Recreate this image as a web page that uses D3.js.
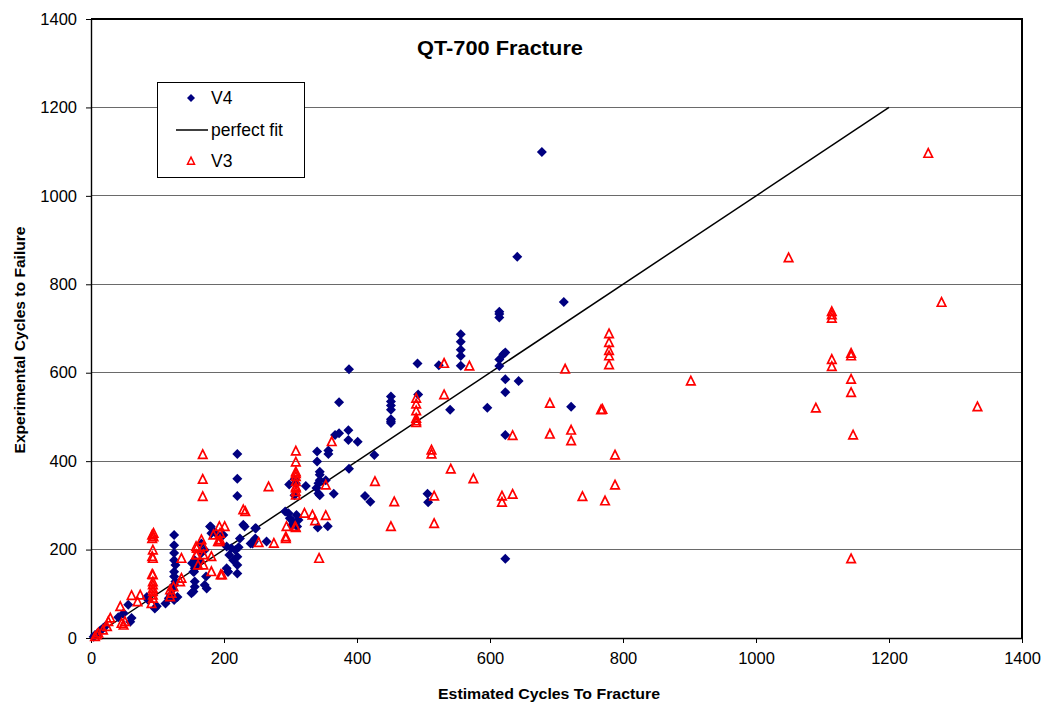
<!DOCTYPE html>
<html>
<head>
<meta charset="utf-8">
<script src="https://cdn.jsdelivr.net/npm/d3@7"></script>
<style>
  html, body { margin: 0; padding: 0; background: #fff; }
  svg { display: block; font-family: Arial, "Liberation Sans", sans-serif; }
</style>
</head>
<body>
<svg id="chart" width="1060" height="704"></svg>
<script>
// Estimated vs experimental cycles, [estimated, experimental]
const v4Points = [
  [678,1099],[641,862],[711,760],[614,738],[614,733],[614,725],[623,646],[620,642],[614,630],[614,615],
  [523,617],[491,621],[623,585],[643,581],[623,556],[492,551],[540,516],[596,521],[722,523],[623,459],[623,179],
  [556,687],[556,670],[556,652],[556,638],[556,616],
  [451,546],[451,535],[451,526],[451,516],[451,495],[451,490],[451,486],
  [388,608],[373,533],[367,459],[373,463],[387,470],[387,448],[401,444],[340,422],[357,424],[357,416],[340,399],
  [426,414],[388,383],[344,376],[344,369],[344,357],[298,347],[306,359],[308,350],[323,344],[342,350],[339,339],
  [342,327],[344,323],[353,357],[365,326],[306,323],[412,321],[420,308],[506,326],[507,307],
  [292,286],[297,282],[299,271],[309,278],[312,267],[304,263],[302,255],[310,252],[341,250],[356,253],
  [247,248],[247,225],[243,214],[264,218],
  [220,416],[220,360],[220,321],[180,252],[186,240],[199,233],[194,229],[231,252],[248,248],[240,214],[245,218],
  [204,207],[211,203],[217,199],[222,205],[208,188],[220,184],[214,176],[220,165],[220,146],[206,150],[173,139],
  [153,170],[156,158],[155,150],
  [125,233],[125,210],[125,192],[125,176],[127,165],[125,150],[125,139],[127,128],[125,120],[122,109],[120,97],
  [117,90],[112,78],[125,86],[130,93],
  [56,75],[61,45],[59,37],[49,56],[41,47],[21,26],[18,22],[14,17],[11,11],[6,7],[4,3],[84,93],[86,86],[99,72],[96,67],
  [152,169],[156,176],[159,161],[154,150],[156,128],[156,116],[154,105],[151,101],[171,120],[174,112],[179,252],
  [181,237],[166,214],[171,199],[166,192],[164,173],[204,158],[206,150],[224,225],[229,256]
];

const v3Points = [
  [1259,1096],[1049,860],[1279,759],[1114,738],[1114,731],[1114,723],[1143,644],[1143,638],[1114,630],[1114,614],
  [1143,585],[1143,555],[1090,520],[1333,523],[1146,459],[1143,179],
  [779,688],[779,668],[779,650],[779,638],[779,618],[902,581],[769,517],[788,414],[788,346],[773,310],
  [531,550],[690,531],[767,516],[634,458],[690,461],[722,470],[722,446],[512,425],[512,416],[541,382],[575,360],
  [516,321],[618,321],[618,307],[634,325],[739,320],[516,259],
  [531,621],[569,615],[489,542],[489,529],[489,514],[489,497],[489,491],[489,487],[713,608],
  [362,444],[308,423],[308,398],[308,376],[308,372],[308,365],[308,354],[308,342],[308,339],[308,331],[308,323],
  [267,342],[353,346],[427,354],[456,308],[321,282],[333,278],[337,265],[353,277],[294,252],[308,250],[293,225],
  [252,216],[275,214],[343,180],[451,252],
  [168,415],[168,359],[168,320],[232,286],[307,252],[293,229],[193,252],[201,252],[193,218],[184,233],[158,207],
  [158,188],[166,222],[169,188],[169,165],[181,184],[136,180],[181,150],[197,143],
  [94,237],[94,229],[93,199],[93,180],[93,143],[93,127],[93,120],[93,112],[93,105],[93,97],[93,90],[91,78],
  [61,96],[74,97],[70,82],[44,71],[29,45],[26,37],[24,26],[18,18],[11,11],[9,7],[6,3],[46,33],[51,37],[49,29],
  [119,109],[121,101],[119,93],[124,116],[136,135],[134,127],[159,203],[169,207],[159,188],[161,165],[195,143],
  [194,237],[191,218],[194,222],[229,290],[92,233],[92,225],[92,184],[92,144]
];

const perfectFit = [[0, 0], [1200, 1200]];

const xTicks = [0, 200, 400, 600, 800, 1000, 1200, 1400];
const yTicks = [0, 200, 400, 600, 800, 1000, 1200, 1400];

const chartTitle = "QT-700 Fracture";
const xTitle = "Estimated Cycles To Fracture";
const yTitle = "Experimental Cycles to Failure";
const legendItems = ["V4", "perfect fit", "V3"];

const svg = d3.select("#chart");
const plot = { left: 91, right: 1022, top: 19, bottom: 638 };

const x = d3.scaleLinear().domain([0, 1400]).range([plot.left, plot.right]);
const y = d3.scaleLinear().domain([0, 1400]).range([plot.bottom, plot.top]);

// horizontal gridlines
svg.append("g")
  .selectAll("line")
  .data(yTicks.filter(d => d > 0 && d < 1400))
  .join("line")
  .attr("x1", plot.left).attr("x2", plot.right)
  .attr("y1", d => y(d)).attr("y2", d => y(d))
  .attr("stroke", "#6a6a6a").attr("stroke-width", 1)
  .attr("shape-rendering", "crispEdges");

// plot frame (top and right)
svg.append("path")
  .attr("d", `M${plot.left},${plot.top}H${plot.right}V${plot.bottom}`)
  .attr("fill", "none").attr("stroke", "#000").attr("stroke-width", 1.2)
  .attr("shape-rendering", "crispEdges");

// axes
const xAxis = svg.append("g")
  .attr("transform", `translate(0,${plot.bottom})`)
  .call(d3.axisBottom(x).tickValues(xTicks).tickFormat(d3.format("d")).tickSize(5).tickSizeOuter(0).tickPadding(9));
const yAxis = svg.append("g")
  .attr("transform", `translate(${plot.left},0)`)
  .call(d3.axisLeft(y).tickValues(yTicks).tickFormat(d3.format("d")).tickSize(5).tickSizeOuter(0).tickPadding(9));

[xAxis, yAxis].forEach(g => {
  g.select(".domain").attr("stroke", "#000").attr("stroke-width", 1.4);
  g.selectAll(".tick line").attr("stroke", "#000").attr("stroke-width", 1);
  g.selectAll(".tick text").attr("fill", "#000").style("font-size", "16.5px");
});

// perfect fit line
const line = d3.line().x(d => x(d[0])).y(d => y(d[1]));
svg.append("path")
  .datum(perfectFit)
  .attr("d", line)
  .attr("fill", "none").attr("stroke", "#000").attr("stroke-width", 1.5);

// V4 diamonds
const diamond = r => `M0,${-r}L${r},0L0,${r}L${-r},0Z`;
svg.append("g")
  .selectAll("path")
  .data(v4Points)
  .join("path")
  .attr("transform", d => `translate(${x(d[0])},${y(d[1])})`)
  .attr("d", diamond(5))
  .attr("fill", "#000080");

// V3 open triangles
const triangle = s => `M0,${-s * 0.55}L${s / 2},${s * 0.45}L${-s / 2},${s * 0.45}Z`;
svg.append("g")
  .selectAll("path")
  .data(v3Points)
  .join("path")
  .attr("transform", d => `translate(${x(d[0])},${y(d[1])})`)
  .attr("d", triangle(8.5))
  .attr("fill", "none").attr("stroke", "#ff0000").attr("stroke-width", 1.7);

// title
svg.append("text")
  .attr("x", 500).attr("y", 55)
  .attr("text-anchor", "middle")
  .attr("textLength", 166).attr("lengthAdjust", "spacingAndGlyphs")
  .style("font-size", "20px").style("font-weight", "bold")
  .text(chartTitle);

// axis titles
svg.append("text")
  .attr("x", 549).attr("y", 699)
  .attr("text-anchor", "middle")
  .attr("textLength", 222).attr("lengthAdjust", "spacingAndGlyphs")
  .style("font-size", "15.5px").style("font-weight", "bold")
  .text(xTitle);

svg.append("text")
  .attr("transform", "translate(25,340) rotate(-90)")
  .attr("text-anchor", "middle")
  .attr("textLength", 227).attr("lengthAdjust", "spacingAndGlyphs")
  .style("font-size", "15.5px").style("font-weight", "bold")
  .text(yTitle);

// legend
const legend = svg.append("g");
legend.append("rect")
  .attr("x", 157.5).attr("y", 82.5).attr("width", 147).attr("height", 95)
  .attr("fill", "#fff").attr("stroke", "#000").attr("stroke-width", 1);

const rowY = [98, 130, 161];
legend.append("path")
  .attr("transform", `translate(191,${rowY[0]})`)
  .attr("d", diamond(4)).attr("fill", "#000080");
legend.append("line")
  .attr("x1", 176).attr("x2", 208).attr("y1", rowY[1]).attr("y2", rowY[1])
  .attr("stroke", "#000").attr("stroke-width", 1.5);
legend.append("path")
  .attr("transform", `translate(191,${rowY[2]})`)
  .attr("d", triangle(7)).attr("fill", "none").attr("stroke", "#ff0000").attr("stroke-width", 1.5);

legend.selectAll("text.item")
  .data(legendItems)
  .join("text")
  .attr("class", "item")
  .attr("x", 211).attr("y", (d, i) => rowY[i] + 6)
  .style("font-size", "17.5px")
  .text(d => d);
</script>
</body>
</html>
